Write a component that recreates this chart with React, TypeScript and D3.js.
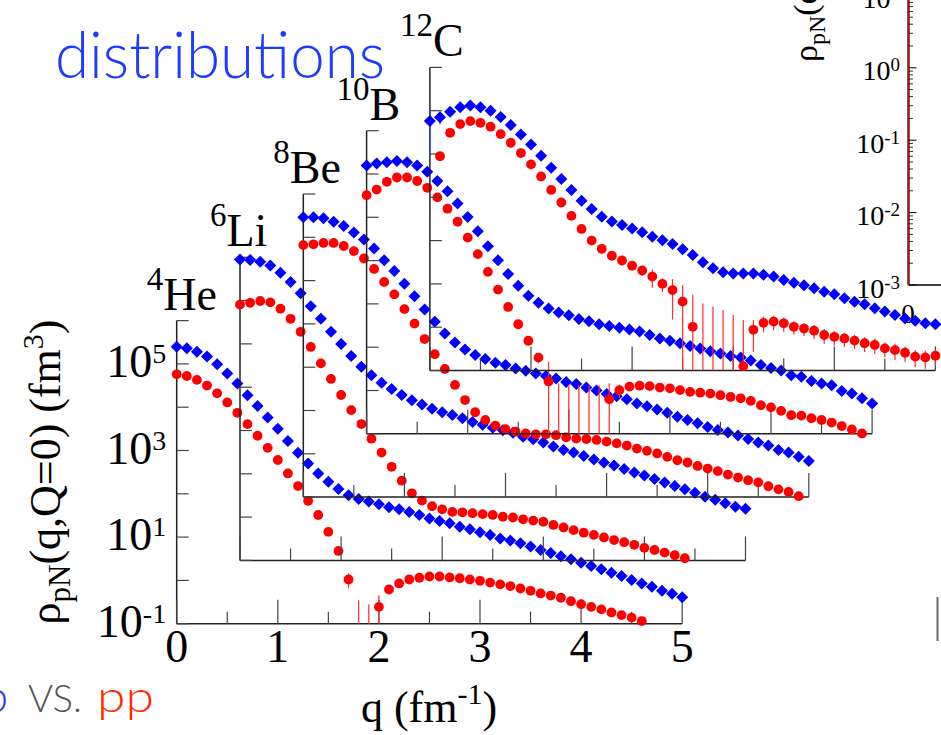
import React from "react";
import * as d3 from "d3";

const SERIF = "'Liberation Serif', 'Times New Roman', Times, serif";
const SANS = "Lato, 'Open Sans', sans-serif";

// momentum grid q (fm^-1)
const Q = [0, 0.1, 0.2, 0.3, 0.4, 0.5, 0.6, 0.7, 0.8, 0.9, 1, 1.1, 1.2, 1.3, 1.4, 1.5, 1.6, 1.7, 1.8, 1.9, 2, 2.1, 2.2, 2.3, 2.4, 2.5, 2.6, 2.7, 2.8, 2.9, 3, 3.1, 3.2, 3.3, 3.4, 3.5, 3.6, 3.7, 3.8, 3.9, 4, 4.1, 4.2, 4.3, 4.4, 4.5, 4.6, 4.7, 4.8, 4.9, 5];

// 4He
const HE_PN = [2.5e5, 2.3e5, 1.9e5, 1.48e5, 9.8e4, 6.0e4, 3.55e4, 1.9e4, 1.07e4, 5.75e3,
  3.16e3, 1.66e3, 891, 501, 295, 191, 129, 93, 76, 66,
  57.5, 49, 43.7, 38, 32.4, 26.9, 23.4, 20.9, 17.4, 15.1,
  12.9, 11.2, 9.33, 8.32, 7.24, 6.03, 5.01, 4.27, 3.63, 3.09,
  2.57, 2.14, 1.82, 1.51, 1.26, 1.02, 0.85, 0.71, 0.575, 0.49, 0.41];
const HE_PP = [5.75e4, 5.25e4, 4.27e4, 3.16e4, 2.09e4, 1.29e4, 7.41e3, 4.07e3, 2.19e3, 1.15e3,
  603, 295, 151, 69, 32.4, 13.2, 4.79, 1.05, 0.05, 0.03,
  0.245, 0.617, 0.85, 1.05, 1.15, 1.23, 1.23, 1.17, 1.12, 1.05,
  0.98, 0.89, 0.81, 0.74, 0.65, 0.575, 0.5, 0.447, 0.398, 0.331,
  0.282, 0.245, 0.214, 0.182, 0.158, 0.138, 0.115, 0.09, 0.078, 0.066, 0.056];
const HE_PP_ERR = [[1.7, 0.4], [1.8, 0.3], [1.9, 0.25], [2.0, 0.21], [2.1, 0.08]];

// 6Li
const LI_PN = [8.9e5, 8.7e5, 7.9e5, 6.5e5, 4.4e5, 2.7e5, 1.48e5, 7.4e4, 3.8e4, 1.9e4,
  1.0e4, 5.25e3, 2.95e3, 1.9e3, 1.26e3, 912, 661, 501, 398, 316,
  263, 229, 191, 158, 135, 115, 102, 89, 72, 63,
  52.5, 42.7, 35.5, 30.9, 25.7, 21.4, 18.2, 15.5, 12.9, 10.7,
  9.1, 7.6, 6.3, 5.25, 4.37, 3.63, 2.95, 2.51, 2.09, 1.74, 1.55];
const LI_PP = [8.1e4, 8.9e4, 9.8e4, 9.1e4, 6.5e4, 3.8e4, 1.9e4, 8.5e3, 3.55e3, 1.55e3,
  661, 295, 141, 64.6, 30.9, 14.5, 6.92, 3.55, 2.4, 1.78,
  1.51, 1.32, 1.29, 1.23, 1.17, 1.12, 1.02, 0.98, 0.89, 0.83,
  0.78, 0.66, 0.575, 0.5, 0.437, 0.389, 0.339, 0.295, 0.263, 0.229,
  0.195, 0.174, 0.151, 0.132, 0.112, 0.097, 0.085, 0.075, 0.066, 0.058, 0.05];

// 8Be
const BE_PN = [2.9e5, 2.9e5, 2.75e5, 2.3e5, 1.82e5, 1.29e5, 8.9e4, 5.5e4, 2.95e4, 1.66e4,
  8.5e3, 4.37e3, 2.14e3, 1.12e3, 603, 372, 257, 191, 155, 126,
  112, 93, 83, 72, 63, 55, 45.7, 40.7, 33.9, 28.8,
  24, 21.4, 18.2, 14.5, 12.6, 10.5, 8.9, 7.2, 6.0, 5.1,
  4.17, 3.55, 3.09, 2.63, 2.19, 1.82, 1.55, 1.23, 1.07, 0.85, 0.68];
const BE_PP = [6.6e4, 6.9e4, 7.4e4, 7.4e4, 6.3e4, 4.8e4, 3.24e4, 1.86e4, 9.3e3, 4.8e3,
  2.19e3, 1.02e3, 447, 200, 91, 38.9, 17.4, 9.1, 6.03, 4.47,
  3.72, 3.24, 2.95, 2.82, 2.82, 2.69, 2.4, 2.24, 2.19, 2.09,
  1.91, 1.74, 1.55, 1.32, 1.17, 1.02, 0.85, 0.71, 0.63, 0.525,
  0.457, 0.398, 0.331, 0.282, 0.245, 0.219, 0.178, 0.151, 0.132, 0.105, 0.09];

// 10B
const B_PN = [1.58e5, 1.74e5, 1.86e5, 2.0e5, 1.86e5, 1.58e5, 1.12e5, 6.9e4, 3.98e4, 2.09e4,
  1.02e4, 4.79e3, 2.14e3, 1.02e3, 490, 263, 155, 107, 78, 63,
  55, 44.7, 39.8, 33.9, 30.9, 28.2, 25.7, 22.9, 19.1, 15.8,
  14.1, 12.3, 10.7, 9.3, 8.1, 7.2, 6.3, 5.75, 4.9, 3.89,
  3.31, 2.88, 2.24, 2.09, 1.66, 1.45, 1.32, 0.98, 0.85, 0.66, 0.5];
const B_PP = [3.24e4, 4.37e4, 6.6e4, 8.3e4, 8.3e4, 6.9e4, 4.8e4, 2.88e4, 1.58e4, 7.9e3,
  3.39e3, 1.41e3, 550, 214, 85, 33.9, 14.1, 5.75, 1.62, 0.05,
  0.05, 0.05, 0.05, 0.05, 0.63, 1.02, 1.23, 1.29, 1.26, 1.17,
  1.12, 1.02, 0.93, 0.89, 0.85, 0.78, 0.71, 0.66, 0.575, 0.457,
  0.407, 0.339, 0.269, 0.263, 0.229, 0.209, 0.182, 0.151, 0.126, 0.102, 0.085];
const B_PP_ERR = [[1.7, 1.5], [1.8, 3.0], [1.9, 1.4], [2.0, 1.35], [2.1, 1.3], [2.2, 1.25], [2.3, 1.25],
  [2.4, 0.85], [2.5, 0.35], [2.6, 0.2], [2.7, 0.2], [2.8, 0.15], [2.9, 0.12], [3.0, 0.1]];

// 12C
const C_PN = [5.75e4, 7.1e4, 9.5e4, 1.2e5, 1.32e5, 1.2e5, 1.0e5, 7.2e4, 4.68e4, 2.82e4,
  1.66e4, 9.1e3, 4.79e3, 2.63e3, 1.48e3, 832, 537, 355, 275, 229,
  191, 155, 123, 102, 83, 63, 46.8, 31.6, 22.9, 18.6,
  17.4, 17.4, 17.4, 16.2, 14.8, 12.3, 10.7, 9.3, 7.9, 6.6,
  5.75, 4.68, 3.89, 3.39, 2.75, 2.29, 1.91, 1.58, 1.41, 1.23, 1.17];
const C_PN_ERR = [[0, 4.7e4], [0.1, 2.3e4]];
const C_PP = [null, 8.9e3, 3.09e4, 4.9e4, 5.75e4, 5.25e4, 4.27e4, 2.88e4, 1.82e4, 1.05e4,
  5.75e3, 3.02e3, 1.48e3, 759, 372, 186, 100, 64.6, 44.7, 34.7,
  26.3, 20.4, 14.8, 10, 7.2, 3.89, 1.02, 0.05, 0.05, 0.05,
  0.05, 0.126, 0.87, 1.26, 1.35, 1.23, 1.02, 0.93, 0.83, 0.66,
  0.6, 0.55, 0.49, 0.427, 0.389, 0.324, 0.295, 0.257, 0.209, 0.2, 0.219];
const C_PP_ERR = [[1.7, 15], [1.8, 10], [1.9, 8], [2.0, 6], [2.1, 5], [2.2, 6.6], [2.3, 3.5], [2.4, 5.7],
  [2.5, 5.4], [2.6, 4.6], [2.7, 3.5], [2.8, 2.9], [2.9, 2.46], [3.0, 1.86], [3.1, 1.34], [3.2, 0.6],
  [3.3, 0.5], [3.4, 0.5], [3.5, 0.45], [3.6, 0.35], [3.7, 0.3], [3.8, 0.3], [3.9, 0.25], [4.0, 0.22],
  [4.1, 0.2], [4.2, 0.18], [4.3, 0.16], [4.4, 0.15], [4.5, 0.12], [4.6, 0.12], [4.7, 0.1], [4.8, 0.09],
  [4.9, 0.09], [5.0, 0.09]];

const PANEL_MASS = ["4", "6", "8", "10", "12"];
const PANEL_NAMES = ["He", "Li", "Be", "B", "C"];
const PN_SERIES = [HE_PN, LI_PN, BE_PN, B_PN, C_PN];
const PP_SERIES = [HE_PP, LI_PP, BE_PP, B_PP, C_PP];
const PN_ERRORS = [[], [], [], [], C_PN_ERR];
const PP_ERRORS = [HE_PP_ERR, [], [], B_PP_ERR, C_PP_ERR];

const Y_TICKS = [1e-1, 1, 1e1, 1e2, 1e3, 1e4, 1e5, 1e6];
const Y_LABELS: [number, string][] = [[1e-1, "-1"], [1e1, "1"], [1e3, "3"], [1e5, "5"]];
const X_TICKS = [0, 0.5, 1, 1.5, 2, 2.5, 3, 3.5, 4, 4.5, 5];
const X_LABELS = [0, 1, 2, 3, 4, 5];

const INSET_MAJOR = [1e-3, 1e-2, 1e-1, 1, 10];
const INSET_LABELS: [number, string][] = [[1e-3, "-3"], [1e-2, "-2"], [1e-1, "-1"], [1, "0"], [10, "1"]];

// layout
const ORIGIN_X = 176.7;
const ORIGIN_Y = 623.7;
const STEP = 63.3;
const PW = 505.5;
const PH = 303.1;

const BLUE = "#0000ff";
const RED = "#ff0000";

function diamond(cx: number, cy: number, s = 6.0) {
  return `M${cx},${cy - s}L${cx + s},${cy}L${cx},${cy + s}L${cx - s},${cy}Z`;
}

function Panel({ i }: { i: number }) {
  const x0 = ORIGIN_X + STEP * i;
  const y0 = ORIGIN_Y - STEP * i;
  const x = d3.scaleLinear().domain([0, 5]).range([x0, x0 + PW]);
  const y = d3.scaleLog().domain([0.1, 1e6]).range([y0, y0 - PH]);
  const pn = PN_SERIES[i] as (number | null)[];
  const pp = PP_SERIES[i] as (number | null)[];
  const visible = (v: number | null) => v != null && v >= 0.1;

  const errLines = (vals: (number | null)[], errs: number[][], color: string, tag: string) =>
    errs.map(([q, e], k) => {
      const v = vals[Math.round(q * 10)];
      if (v == null) return null;
      const lo = Math.max(v - e, 0.1);
      const hi = v + e;
      if (hi <= 0.1) return null;
      return (
        <line key={tag + k} x1={x(q)} x2={x(q)} y1={y(lo)} y2={y(hi)} stroke={color} strokeWidth={1.2} />
      );
    });

  return (
    <g>
      {/* axes */}
      <line x1={x0} x2={x0} y1={y0} y2={y0 - PH} stroke="#222" strokeWidth={1.5} />
      <line x1={x0} x2={x0 + PW} y1={y0} y2={y0} stroke="#222" strokeWidth={1.5} />
      {Y_TICKS.map((t) => (
        <line key={"yt" + t} x1={x0} x2={x0 + 12} y1={y(t)} y2={y(t)} stroke="#444" strokeWidth={1.2} />
      ))}
      {X_TICKS.map((t) => (
        <line key={"xt" + t} x1={x(t)} x2={x(t)} y1={y0} y2={y0 - (Number.isInteger(t) ? 24 : 12)} stroke="#444" strokeWidth={1.2} />
      ))}
      {i === 0 &&
        Y_LABELS.map(([v, e]) => (
          <text key={"yl" + e} x={x0 - 10.5} y={y(v) + 13} textAnchor="end" fontFamily={SERIF} fontSize={46} fill="#000">
            10<tspan dy={-14} fontSize={28}>{e}</tspan>
          </text>
        ))}
      {i === 0 &&
        X_LABELS.map((t) => (
          <text key={"xl" + t} x={x(t)} y={y0 + 38.5} textAnchor="middle" fontFamily={SERIF} fontSize={46} fill="#000">
            {t}
          </text>
        ))}
      {/* nucleus label */}
      <text x={x0 - 30} y={y0 - PH - 11} fontFamily={SERIF} fontSize={46} fill="#000">
        <tspan fontSize={33} dy={-20}>{PANEL_MASS[i]}</tspan>
        <tspan dy={20}>{PANEL_NAMES[i]}</tspan>
      </text>
      {/* error bars */}
      {errLines(pn, PN_ERRORS[i], "#3344ff", "pe")}
      {errLines(pp, PP_ERRORS[i], "#ff2a2a", "re")}
      {/* markers */}
      {Q.map((q, k) => (visible(pn[k]) ? <path key={"d" + k} d={diamond(x(q), y(pn[k] as number))} fill={BLUE} /> : null))}
      {Q.map((q, k) => (visible(pp[k]) ? <circle key={"c" + k} cx={x(q)} cy={y(pp[k] as number)} r={4.9} fill={RED} /> : null))}
    </g>
  );
}

function Inset() {
  const ax = 908.5;
  const yIn = d3.scaleLog().domain([1e-3, 10]).range([285, 285 - 4 * 72.4]);
  const minors: number[] = [];
  [1e-3, 1e-2, 1e-1, 1].forEach((d) => {
    for (let m = 2; m <= 9; m++) minors.push(d * m);
  });
  return (
    <g>
      <text transform="translate(817,62) rotate(-90)" fontFamily={SERIF} fontSize={34} fill="#000">
        ρ<tspan dy={8} fontSize={24}>pN</tspan>
        <tspan dy={-8}>(q,Q=0)</tspan>
      </text>
      {INSET_LABELS.map(([v, e]) => (
        <text key={"il" + e} x={900} y={yIn(v) + 12.5} textAnchor="end" fontFamily={SERIF} fontSize={28} fill="#000">
          10<tspan dy={-9} fontSize={19}>{e}</tspan>
        </text>
      ))}
      <text x={908} y={323} textAnchor="middle" fontFamily={SERIF} fontSize={27} fill="#000">0</text>
      {INSET_MAJOR.map((t) => (
        <line key={"im" + t} x1={ax} x2={ax + 8} y1={yIn(t)} y2={yIn(t)} stroke="#000" strokeWidth={1} />
      ))}
      {minors.map((t) => (
        <line key={"in" + t} x1={ax} x2={ax + 4.5} y1={yIn(t)} y2={yIn(t)} stroke="#000" strokeWidth={0.8} />
      ))}
      <line x1={ax} x2={941} y1={285} y2={285} stroke="#000" strokeWidth={1.5} />
      <line x1={ax} x2={ax} y1={0} y2={285} stroke="#000" strokeWidth={2.2} />
      <line x1={ax} x2={ax} y1={0} y2={285} stroke="#e00000" strokeWidth={1.2} />
    </g>
  );
}

export default function App() {
  const panels = [0, 1, 2, 3, 4];
  return (
    <svg
      width={941}
      height={735}
      viewBox="0 0 941 735"
      style={{ position: "absolute", left: 0, top: 0, background: "#fff", display: "block" }}
    >
      <rect x={0} y={0} width={941} height={735} fill="#fff" />
      <Inset />
      <text x={55} y={78} fontFamily={SANS} fontWeight={300} fontSize={65} fill="#1e3cff" textLength={330} lengthAdjust="spacingAndGlyphs">
        distributions
      </text>
      {panels.map((i) => (
        <Panel key={i} i={i} />
      ))}
      {/* axis titles */}
      <text transform="translate(60,472) rotate(-90)" textAnchor="middle" fontFamily={SERIF} fontSize={44} fill="#000">
        ρ<tspan dy={10} fontSize={31}>pN</tspan>
        <tspan dy={-10}>(q,Q=0) (fm</tspan>
        <tspan dy={-17} fontSize={30}>3</tspan>
        <tspan dy={17}>)</tspan>
      </text>
      <text x={429} y={722} textAnchor="middle" fontFamily={SERIF} fontSize={44} fill="#000">
        q (fm<tspan dy={-18} fontSize={30}>-1</tspan>
        <tspan dy={18}>)</tspan>
      </text>
      {/* slide fragments */}
      <text x={8} y={712} textAnchor="end" fontFamily={SANS} fontWeight={300} fontSize={44} fill="#1e3cff">np</text>
      <text x={28} y={712} fontFamily={SANS} fontWeight={300} fontSize={37} fill="#555" textLength={54} lengthAdjust="spacingAndGlyphs">VS.</text>
      <text x={97} y={712} fontFamily={SANS} fontWeight={300} fontSize={44} fill="#ff2a00" textLength={57} lengthAdjust="spacingAndGlyphs">pp</text>
      <line x1={937.5} x2={937.5} y1={597} y2={641} stroke="#666" strokeWidth={2} />
    </svg>
  );
}
